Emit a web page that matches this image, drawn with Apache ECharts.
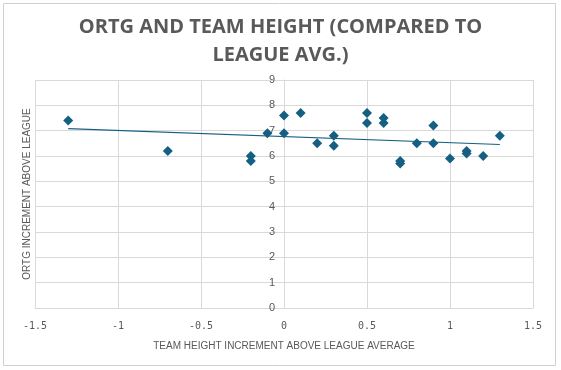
<!DOCTYPE html>
<html><head><meta charset="utf-8">
<script src="https://cdn.jsdelivr.net/npm/echarts@6/dist/echarts.min.js"></script>
<style>html,body{margin:0;padding:0;background:#fff}#c{width:561px;height:370px}</style>
</head><body><div id="c"></div>
<script>
const heightDiff = [-1.3,-0.7,-0.2,-0.2,-0.1,0,0,0.1,0.2,0.3,0.3,0.5,0.5,0.6,0.6,0.7,0.7,0.8,0.9,0.9,1.0,1.1,1.1,1.2,1.3];
const ortgDiff   = [7.4,6.2,6.0,5.8,6.9,7.6,6.9,7.7,6.5,6.8,6.4,7.7,7.3,7.5,7.3,5.8,5.7,6.5,7.2,6.5,5.9,6.2,6.1,6.0,6.8];
const titleText = 'ORTG AND TEAM HEIGHT (COMPARED TO\nLEAGUE AVG.)';
const xName = 'TEAM HEIGHT INCREMENT ABOVE LEAGUE AVERAGE';
const yName = 'ORTG INCREMENT ABOVE LEAGUE';

const pts = heightDiff.map((x,i)=>[x, ortgDiff[i]]);
// least-squares linear trendline
const n = pts.length;
let sx=0,sy=0,sxx=0,sxy=0;
pts.forEach(([x,y])=>{sx+=x;sy+=y;sxx+=x*x;sxy+=x*y;});
const slope=(n*sxy-sx*sy)/(n*sxx-sx*sx), icpt=(sy-slope*sx)/n;
const xmin=Math.min(...heightDiff), xmax=Math.max(...heightDiff);
const trend=[[xmin,icpt+slope*xmin],[xmax,icpt+slope*xmax]];

const gray='#595959', grid='#d9d9d9', accent='#156082';
const plotW = 561-35-28;
const chart = echarts.init(document.getElementById('c'), null, {renderer:'canvas'});
chart.setOption({
  animation:false,
  backgroundColor:'#fff',
  graphic:[{type:'rect',shape:{x:3.5,y:3.5,width:552,height:362},style:{fill:'none',stroke:'#d0d0d0',lineWidth:1}}],
  title:{text:titleText,left:'center',top:8,
    textStyle:{fontFamily:'Open Sans',fontWeight:'bold',fontSize:20,color:gray,lineHeight:28}},
  grid:{left:35,right:28,top:80,bottom:62},
  xAxis:{type:'value',min:-1.5,max:1.5,interval:0.5,
    name:xName,nameLocation:'middle',nameGap:33,
    nameTextStyle:{color:gray,fontSize:10,fontFamily:'Liberation Sans'},
    axisLine:{show:true,onZero:false,lineStyle:{color:grid}},axisTick:{show:false},
    axisLabel:{color:gray,fontSize:10,margin:13,fontFamily:'DejaVu Sans Mono'},
    splitLine:{show:true,lineStyle:{color:grid}}},
  yAxis:[
    {type:'value',min:0,max:9,interval:1,position:'left',offset:-plotW/2,
     axisLine:{show:true,onZero:false,lineStyle:{color:grid}},axisTick:{show:false},
     axisLabel:{color:gray,fontSize:11,margin:9,fontFamily:'Liberation Sans'},
     splitLine:{show:true,lineStyle:{color:grid}}},
    {type:'value',min:0,max:9,interval:1,position:'left',
     name:yName,nameLocation:'middle',nameGap:3,
     nameTextStyle:{color:gray,fontSize:10,fontFamily:'Liberation Sans'},
     axisLine:{show:false},axisTick:{show:false},axisLabel:{show:false},splitLine:{show:false}}
  ],
  series:[
    {type:'scatter',data:pts,symbol:'diamond',symbolSize:10,itemStyle:{color:accent,opacity:1},z:3},
    {type:'line',data:trend,symbol:'none',lineStyle:{color:accent,width:1.2},z:2}
  ]
});
</script></body></html>
